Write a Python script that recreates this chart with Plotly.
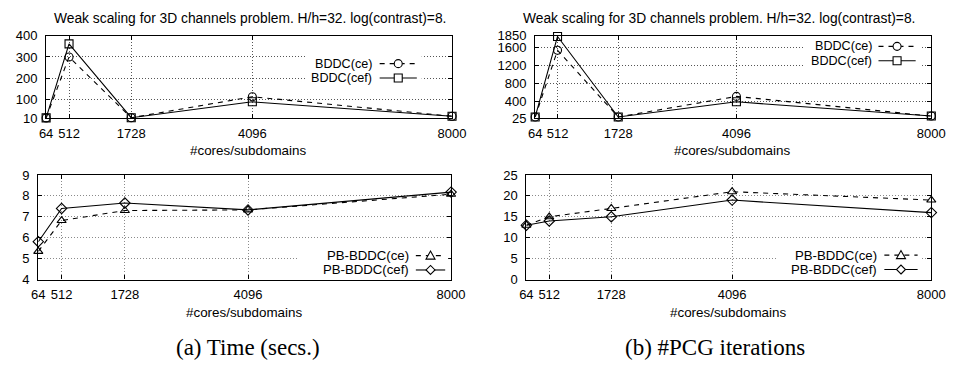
import plotly.graph_objects as go

cores = [64, 512, 1728, 4096, 8000]
tick_labels = ["64", "512", "1728", "4096", "8000"]

time_bddc_ce = [12, 300, 13, 112, 20]
time_bddc_cef = [12, 362, 13, 88, 20]
iters_bddc_ce = [55, 1530, 55, 510, 75]
iters_bddc_cef = [55, 1835, 55, 390, 75]
time_pb_ce = [5.35, 6.82, 7.30, 7.33, 8.08]
time_pb_cef = [5.81, 7.40, 7.66, 7.33, 8.18]
iters_pb_ce = [13, 15, 17, 21, 19]
iters_pb_cef = [13, 14, 15, 19, 16]

y_ticks_tl = [10, 100, 200, 300, 400]
y_ticks_tr = [25, 400, 800, 1200, 1600, 1850]
y_ticks_bl = [4, 5, 6, 7, 8, 9]
y_ticks_br = [0, 5, 10, 15, 20, 25]

title_text = "Weak scaling for 3D channels problem. H/h=32. log(contrast)=8."
xtitle = "#cores/subdomains"
captions = ["(a) Time (secs.)", "(b) #PCG iterations"]

W, H = 959, 373
SANS = "Liberation Sans, Arial, sans-serif"
SERIF = "Liberation Serif, DejaVu Serif, serif"


def fx(px):
    return px / W


def fy(py):
    return 1 - py / H


MARKER_PATHS = {
    "triangle-up-open": "M-4.5,-3.5 L4.5,-3.5 L0,4.5 Z",
    "diamond-open": "M0,-4.5 L4.5,0 L0,4.5 L-4.5,0 Z",
}

panels = [
    # (axis suffix, x px, y px, y range, y ticks, series,
    #  key: text right x, sample x0, sample x1, row ys, box, font size,
    #  tick label y, axis title y, grid colour)
    ("", (40, 455), (30, 116), [10, 400], y_ticks_tl,
     [("BDDC(ce)", time_bddc_ce, "circle-open", "dash"),
      ("BDDC(cef)", time_bddc_cef, "square-open", "solid")],
     (374, 381, 419, (59, 74), (306, 424, 51, 82), 12.6), 130, 149, "#555555"),
    ("2", (540, 945), (30, 116), [25, 1850], y_ticks_tr,
     [("BDDC(ce)", iters_bddc_ce, "circle-open", "dash"),
      ("BDDC(cef)", iters_bddc_cef, "square-open", "solid")],
     (885, 891, 929, (41, 56), (815, 934, 34, 63), 12.6), 130, 149, "#555555"),
    ("3", (32, 454), (175, 284), [4, 9], y_ticks_bl,
     [("PB-BDDC(ce)", time_pb_ce, "triangle-up-open", "dash"),
      ("PB-BDDC(cef)", time_pb_cef, "diamond-open", "solid")],
     (412, 418, 448, (259, 274), (298, 451, 251, 281), 13.2), 298, 318, "#8a8a8a"),
    ("4", (531, 945), (175, 284), [0, 25], y_ticks_br,
     [("PB-BDDC(ce)", iters_pb_ce, "triangle-up-open", "dash"),
      ("PB-BDDC(cef)", iters_pb_cef, "diamond-open", "solid")],
     (891, 897, 931, (258.5, 273.5), (788, 935, 251, 281), 13.2), 298, 318, "#8a8a8a"),
]

fig = go.Figure()
layout = dict(
    width=W, height=H,
    margin=dict(l=0, r=0, t=0, b=0),
    paper_bgcolor="white", plot_bgcolor="white",
    showlegend=False,
    font=dict(family=SANS, size=13, color="black"),
)
shapes = []
annotations = []

for suf, (x0, x1), (y0, y1), yr, yt, series, key, tick_y, title_y, gc in panels:
    xa = "x" + suf
    ya = "y" + suf
    for name, vals, sym, dash in series:
        fig.add_trace(go.Scatter(
            x=cores, y=vals, name=name, xaxis=xa, yaxis=ya,
            mode="lines+markers",
            line=dict(color="black", width=1.1,
                      dash="5px,5px" if dash == "dash" else "solid"),
            marker=dict(symbol=sym, size=8, color="black",
                        line=dict(width=1.1, color="black")),
            cliponaxis=False,
        ))
    axis_common = dict(
        showline=True, linecolor="black", linewidth=1.2, mirror="ticks",
        ticks="inside", ticklen=4, tickcolor="black",
        showgrid=True, gridcolor=gc, griddash="1px,2px", gridwidth=1,
        zeroline=False, tickfont=dict(family=SANS, size=13, color="black"),
    )
    layout["xaxis" + suf] = dict(
        axis_common, domain=[fx(x0), fx(x1)], range=[64, 8000],
        tickvals=cores, ticktext=tick_labels, anchor=ya,
        ticklabelstandoff=max(0, tick_y - y1 - 11),
    )
    layout["yaxis" + suf] = dict(
        axis_common, domain=[fy(y1), fy(y0)], range=yr, tickvals=yt,
        anchor=xa, ticklabelstandoff=5,
    )
    # axis title
    annotations.append(dict(
        text=xtitle, xref="paper", yref="paper", x=fx((x0 + x1) / 2 - 1),
        y=fy(title_y), showarrow=False, xanchor="center", yanchor="middle",
        font=dict(family=SANS, size=13.4)))
    # key (gnuplot style: text, then sample on its right)
    tr, sx0, sx1, rows, (bx0, bx1, by0, by1), kfs = key
    shapes.append(dict(type="rect", xref="paper", yref="paper",
                       x0=fx(bx0), x1=fx(bx1), y0=fy(by1), y1=fy(by0),
                       fillcolor="white", line=dict(width=0), layer="above"))
    for (name, vals, sym, dash), ry in zip(series, rows):
        annotations.append(dict(
            text=name, xref="paper", yref="paper", x=fx(tr), y=fy(ry),
            showarrow=False, xanchor="right", yanchor="middle",
            borderpad=0, font=dict(family=SANS, size=kfs)))
        shapes.append(dict(
            type="line", xref="paper", yref="paper",
            x0=fx(sx0), x1=fx(sx1), y0=fy(ry), y1=fy(ry), layer="above",
            line=dict(color="black", width=1.1,
                      dash="5px,5px" if dash == "dash" else "solid")))
        cx, cy = fx((sx0 + sx1) / 2), fy(ry)
        mk = dict(xref="paper", yref="paper", xsizemode="pixel",
                  ysizemode="pixel", xanchor=cx, yanchor=cy, layer="above",
                  fillcolor="white", line=dict(color="black", width=1.1))
        if sym == "circle-open":
            shapes.append(dict(mk, type="circle", x0=-4, x1=4, y0=-4, y1=4))
        elif sym == "square-open":
            shapes.append(dict(mk, type="rect", x0=-4, x1=4, y0=-4, y1=4))
        else:
            shapes.append(dict(mk, type="path", path=MARKER_PATHS[sym]))

for cx in [248, 728]:
    annotations.append(dict(text=title_text, xref="paper", yref="paper",
                            x=fx(cx), y=fy(12), showarrow=False,
                            font=dict(family=SANS, size=13.8),
                            xanchor="center", yanchor="middle"))

for cx, cap in zip([246, 724], captions):
    annotations.append(dict(text=cap, xref="paper", yref="paper",
                            x=fx(cx), y=fy(355), showarrow=False,
                            font=dict(family=SERIF, size=23),
                            xanchor="center", yanchor="middle"))

layout["shapes"] = shapes
layout["annotations"] = annotations
fig.update_layout(**layout)

fig.write_html("out.html")
